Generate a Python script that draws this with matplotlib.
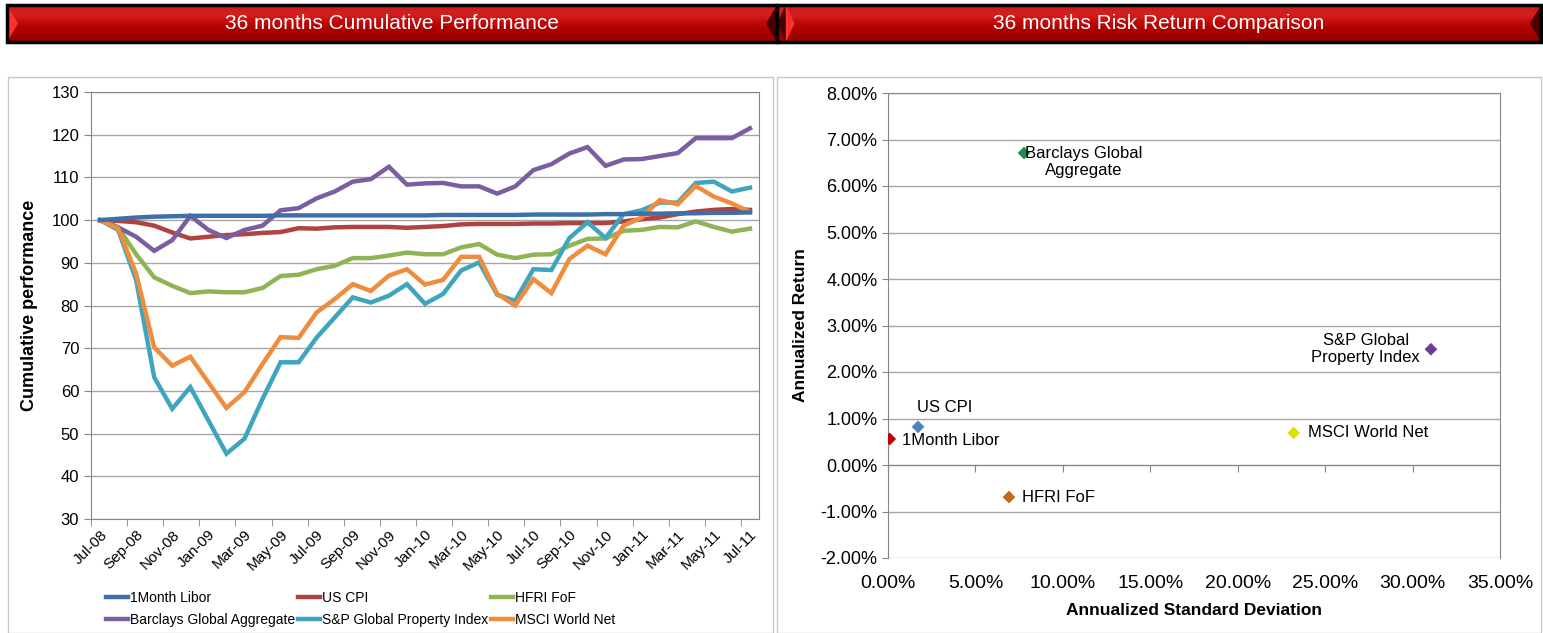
import numpy as np
import matplotlib
matplotlib.use("Agg")
import matplotlib.pyplot as plt
from matplotlib.patches import Rectangle, Polygon

plt.rcParams['font.family'] = ['Liberation Sans', 'DejaVu Sans']

# data: 36 months cumulative performance
months = ['Jul-08', 'Aug-08', 'Sep-08', 'Oct-08', 'Nov-08', 'Dec-08', 'Jan-09', 'Feb-09',
          'Mar-09', 'Apr-09', 'May-09', 'Jun-09', 'Jul-09', 'Aug-09', 'Sep-09', 'Oct-09',
          'Nov-09', 'Dec-09', 'Jan-10', 'Feb-10', 'Mar-10', 'Apr-10', 'May-10', 'Jun-10',
          'Jul-10', 'Aug-10', 'Sep-10', 'Oct-10', 'Nov-10', 'Dec-10', 'Jan-11', 'Feb-11',
          'Mar-11', 'Apr-11', 'May-11', 'Jun-11', 'Jul-11']

libor = [100, 100.3, 100.6, 100.8, 100.9, 101.0, 101.0, 101.0, 101.0, 101.0, 101.1, 101.1,
         101.1, 101.1, 101.1, 101.1, 101.1, 101.1, 101.1, 101.2, 101.2, 101.2, 101.2, 101.2,
         101.3, 101.3, 101.3, 101.3, 101.4, 101.4, 101.5, 101.5, 101.6, 101.6, 101.7, 101.7, 101.8]
us_cpi = [100, 99.8, 99.5, 98.7, 97.1, 95.7, 96.1, 96.5, 96.7, 97.0, 97.2, 98.1,
          98.0, 98.3, 98.4, 98.4, 98.4, 98.2, 98.4, 98.6, 99.0, 99.1, 99.1, 99.1,
          99.2, 99.2, 99.3, 99.3, 99.3, 99.7, 100.2, 100.6, 101.4, 102.0, 102.4, 102.6, 102.4]
hfri = [100, 98.3, 92.0, 86.6, 84.6, 82.9, 83.3, 83.1, 83.1, 84.1, 86.9, 87.2,
        88.5, 89.3, 91.1, 91.1, 91.7, 92.4, 92.0, 92.0, 93.6, 94.4, 91.9, 91.1,
        91.9, 92.0, 94.0, 95.6, 95.7, 97.5, 97.7, 98.4, 98.3, 99.7, 98.4, 97.3, 98.0]
barclays = [100, 98.3, 96.1, 92.8, 95.3, 101.0, 97.7, 95.8, 97.7, 98.7, 102.3, 102.8,
            105.1, 106.7, 109.0, 109.6, 112.5, 108.3, 108.6, 108.7, 107.9, 107.9, 106.2, 107.9,
            111.7, 113.1, 115.6, 117.1, 112.7, 114.2, 114.3, 115.0, 115.7, 119.2, 119.2, 119.2, 121.5]
sp_prop = [100, 97.7, 86.0, 63.2, 55.8, 60.9, 53.1, 45.3, 48.8, 58.1, 66.7, 66.7,
           72.5, 77.2, 81.9, 80.7, 82.3, 85.0, 80.4, 82.7, 88.2, 90.1, 82.5, 81.1,
           88.5, 88.3, 95.8, 99.5, 95.8, 101.4, 102.3, 104.1, 104.1, 108.7, 109.0, 106.7, 107.6]
msci = [100, 98.1, 87.5, 70.2, 65.9, 68.0, 62.0, 56.0, 59.7, 66.3, 72.6, 72.4,
        78.4, 81.5, 85.0, 83.4, 87.0, 88.5, 84.9, 86.0, 91.4, 91.4, 82.7, 80.0,
        86.2, 82.9, 90.9, 94.0, 92.0, 98.7, 100.6, 104.7, 103.7, 108.0, 105.5, 103.9, 101.9]

line_names = ['1Month Libor', 'US CPI', 'HFRI FoF', 'Barclays Global Aggregate',
              'S&P Global Property Index', 'MSCI World Net']
line_colors = ['#3f6fa8', '#b0433f', '#8fb457', '#7b5ea1', '#3fa5bf', '#ef8d3e']

# data: risk / return (percent)
rr_names = ['1Month Libor', 'US CPI', 'Barclays Global\nAggregate', 'HFRI FoF',
            'MSCI World Net', 'S&P Global\nProperty Index']
rr_std = [0.1, 1.72, 7.78, 6.92, 23.2, 31.05]
rr_ret = [0.56, 0.82, 6.71, -0.69, 0.69, 2.49]
rr_colors = ['#c00000', '#4f81bd', '#1e8c4c', '#c46a14', '#e0e000', '#6a3d9a']

W, H = 1543, 633
fig = plt.figure(figsize=(W / 100, H / 100), dpi=100)


def fx(px):
    return px / W


def fy(py):
    return 1 - py / H


# header bars
def header(x0, x1, title, left_dark):
    hax = fig.add_axes([fx(x0), fy(42), fx(x1 - x0), (42 - 5) / H])
    grad = np.array([[0.80, 0.10, 0.10], [0.85, 0.14, 0.14], [0.78, 0.05, 0.05],
                     [0.70, 0.01, 0.01], [0.65, 0.0, 0.0], [0.60, 0.0, 0.0]])
    hax.imshow(grad[:, None, :], extent=[0, 1, 0, 1], aspect='auto', interpolation='bicubic')
    hax.set_xlim(0, 1)
    hax.set_ylim(0, 1)
    hax.axis('off')
    w = 11 / (x1 - x0)
    if left_dark:
        hax.add_patch(Polygon([(0, 0.5), (w * 0.8, 1), (w * 0.8, 0)], closed=True,
                              color='#4a0000', lw=0))
        hax.add_patch(Polygon([(w * 0.8, 1), (w * 1.6, 0.5), (w * 0.8, 0)], closed=True,
                              color='#ff3030', lw=0))
    else:
        hax.add_patch(Polygon([(0, 1), (w, 0.5), (0, 0)], closed=True, color='#ff3030', lw=0))
    hax.add_patch(Polygon([(1, 1), (1 - w, 0.5), (1, 0)], closed=True, color='#4a0000', lw=0))
    hax.add_patch(Rectangle((0, 0), 1, 1, fill=False, ec='black', lw=2.5,
                            transform=hax.transAxes, clip_on=False))
    hax.text(0.5, 0.5, title, color='white', fontsize=15, ha='center', va='center')


header(7, 777, '36 months Cumulative Performance', False)
header(777, 1541, '36 months Risk Return Comparison', True)

# chart frames
fig.patches.append(Rectangle((fx(8), 0), fx(773 - 8), fy(77), fill=False, ec='#c8c8c8',
                             lw=1, transform=fig.transFigure))
fig.patches.append(Rectangle((fx(777), 0), fx(1541 - 777), fy(77), fill=False, ec='#c8c8c8',
                             lw=1, transform=fig.transFigure))

# left: cumulative performance
ax = fig.add_axes([fx(91), fy(519), fx(759 - 91), (519 - 92) / H])
x = np.arange(len(months))
series = [libor, us_cpi, hfri, barclays, sp_prop, msci]
handles = []
for vals, name, col in zip(series, line_names, line_colors):
    h, = ax.plot(x, vals, color=col, lw=3.2, label=name, solid_joinstyle='miter')
    handles.append(h)
handles[0].set_zorder(3)
ax.set_xlim(-0.5, len(months) - 0.5)
ax.set_ylim(30, 130)
ax.set_yticks(np.arange(30, 131, 10))
ax.grid(axis='y', color='#a6a6a6', lw=1)
ax.set_axisbelow(True)
ax.set_xticks(x[::2])
ax.set_xticklabels(months[::2], rotation=45, ha='right', rotation_mode='anchor', fontsize=11)
ax.set_xticks(np.arange(-0.5, len(months) - 1, 2), minor=True)
ax.tick_params(axis='x', which='major', length=0, pad=6)
ax.tick_params(axis='x', which='minor', length=5, color='#868686', direction='out')
ax.tick_params(axis='y', length=5, color='#868686', labelsize=12)
for s in ax.spines.values():
    s.set_color('#868686')
ax.set_ylabel('Cumulative performance', fontsize=13, fontweight='bold')
ax.yaxis.set_label_coords(-0.079, 0.5)
order = [0, 3, 1, 4, 2, 5]
fig.legend([handles[i] for i in order], [line_names[i] for i in order], ncol=3,
           loc='upper left', bbox_to_anchor=(fx(100), fy(585)), frameon=False, fontsize=10,
           handlelength=1.6, handletextpad=0.15, columnspacing=0.2, labelspacing=0.6,
           borderaxespad=0)

# right: risk return scatter
ax2 = fig.add_axes([fx(888), fy(558), fx(1500 - 888), (558 - 93) / H])
ax2.scatter(rr_std, rr_ret, c=rr_colors, marker='D', s=42, zorder=3, edgecolors='none')
ax2.spines['bottom'].set_position(('data', 0))
ax2.set_xlim(0, 35)
ax2.set_ylim(-2, 8)
ax2.set_yticks(np.arange(-2, 8.1, 1))
ax2.set_xticks(np.arange(0, 35.1, 5))
ax2.set_yticklabels([f'{v:.2f}%' for v in np.arange(-2, 8.1, 1)])
ax2.set_xticklabels([f'{v:.2f}%' for v in np.arange(0, 35.1, 5)])
ax2.grid(axis='y', color='#a6a6a6', lw=1)
ax2.set_axisbelow(True)
for s in ax2.spines.values():
    s.set_color('#868686')
ax2.tick_params(axis='x', length=5, color='#868686', pad=74, labelsize=14)
ax2.tick_params(axis='y', length=4, color='#868686', labelsize=13)
ax2.set_xlabel('Annualized Standard Deviation', fontsize=12.5, fontweight='bold')
ax2.xaxis.set_label_coords(0.5, -0.097)
ax2.set_ylabel('Annualized Return', fontsize=12.5, fontweight='bold')
ax2.yaxis.set_label_coords(-0.131, 0.5)

offsets = {
    '1Month Libor': ((9, -1), 'left', 'center'),
    'US CPI': ((19, 14), 'center', 'center'),
    'Barclays Global\nAggregate': ((43, 5), 'center', 'top'),
    'HFRI FoF': ((9, 0), 'left', 'center'),
    'MSCI World Net': ((10, 0), 'left', 'center'),
    'S&P Global\nProperty Index': ((-47, 0), 'center', 'center'),
}
for name, sx, ry in zip(rr_names, rr_std, rr_ret):
    off, ha, va = offsets[name]
    ax2.annotate(name, (sx, ry), xytext=off, textcoords='offset points', ha=ha, va=va,
                 fontsize=12, multialignment='center', linespacing=1.2)

fig.savefig('out.png', dpi=100)
